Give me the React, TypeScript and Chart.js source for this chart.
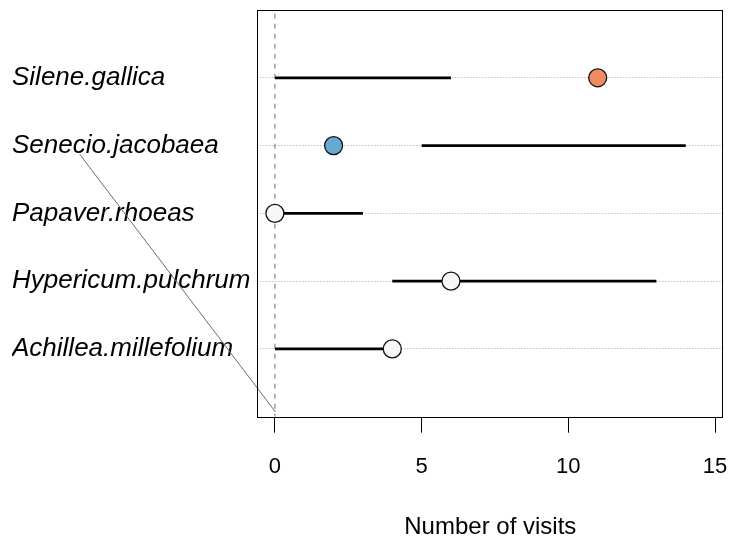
import React, { useEffect, useRef } from "react";
import { Chart, registerables } from "chart.js";

Chart.register(...registerables);

// ---- data ----
const species = [
  "Achillea.millefolium",
  "Hypericum.pulchrum",
  "Papaver.rhoeas",
  "Senecio.jacobaea",
  "Silene.gallica",
];
const rows = [1, 2, 3, 4, 5];
const lower = [0, 4, 0, 5, 0];
const upper = [4, 13, 3, 14, 6];
const visits = [4, 6, 0, 2, 11];
const pointColors = ["#f7f7f7", "#f7f7f7", "#f7f7f7", "#67a9cf", "#ef8a62"];
const xTicks = [0, 5, 10, 15];
const refLineX = [0, 0];
const refLineY = [0, 6];
const strayLineX = [-6.65, 0.02];
const strayLineY = [3.87, 0.07];

const boxPlugin = {
  id: "boxPlugin",
  afterDraw(chart: any) {
    const { ctx, chartArea } = chart;
    ctx.save();
    ctx.strokeStyle = "#000";
    ctx.lineWidth = 1;
    ctx.strokeRect(
      Math.round(chartArea.left) + 0.5,
      Math.round(chartArea.top) + 0.5,
      Math.round(chartArea.right - chartArea.left) - 1,
      Math.round(chartArea.bottom - chartArea.top)
    );
    ctx.restore();
  },
};

export default function App() {
  const ref = useRef<HTMLCanvasElement | null>(null);

  useEffect(() => {
    if (!ref.current) return;
    const intervalSets = rows.map((r, i) => ({
      type: "line" as const,
      data: [
        { x: lower[i], y: r },
        { x: upper[i], y: r },
      ],
      borderColor: "#000",
      borderWidth: 2.7,
      pointRadius: 0,
      order: 2,
    }));
    const chart = new Chart(ref.current, {
      type: "scatter",
      data: {
        datasets: [
          {
            type: "line",
            data: refLineX.map((x, i) => ({ x, y: refLineY[i] })),
            borderColor: "#707070",
            borderWidth: 1,
            borderDash: [5, 5],
            borderDashOffset: 2,
            pointRadius: 0,
            order: 3,
          } as any,
          ...intervalSets,
          {
            type: "scatter",
            data: rows.map((r, i) => ({ x: visits[i], y: r })),
            pointRadius: 9,
            pointBackgroundColor: pointColors,
            pointBorderColor: "#111",
            pointBorderWidth: 1.3,
            order: 1,
          } as any,
          {
            type: "line",
            data: strayLineX.map((x, i) => ({ x, y: strayLineY[i] })),
            borderColor: "#6b6b6b",
            borderWidth: 1,
            pointRadius: 0,
            clip: false,
            order: 0,
          } as any,
        ],
      },
      options: {
        animation: false,
        responsive: false,
        devicePixelRatio: 1,
        layout: {
          autoPadding: false,
          padding: { left: 12, right: 8.7, top: 10, bottom: 0 },
        },
        plugins: { legend: { display: false }, tooltip: { enabled: false } },
        scales: {
          x: {
            type: "linear",
            min: -0.6,
            max: 15.28,
            afterBuildTicks: (s: any) => {
              s.ticks = xTicks.map((v) => ({ value: v }));
            },
            afterFit: (s: any) => {
              s.height = 126.3;
              s.paddingLeft = 0;
              s.paddingRight = 0;
            },
            grid: {
              drawOnChartArea: false,
              drawTicks: true,
              tickLength: 16,
              color: "#000",
              lineWidth: 1,
            },
            border: { display: false },
            ticks: {
              color: "#000",
              padding: 21,
              maxRotation: 0,
              font: { family: "'Liberation Sans', Arial, sans-serif", size: 22 },
            },
            title: {
              display: true,
              text: "Number of visits",
              color: "#000",
              padding: { top: 0, bottom: 1 },
              font: { family: "'Liberation Sans', Arial, sans-serif", size: 24 },
            },
          },
          y: {
            type: "linear",
            min: 0,
            max: 6,
            afterBuildTicks: (s: any) => {
              s.ticks = rows.map((v) => ({ value: v }));
            },
            afterFit: (s: any) => {
              s.width = 245.3;
              s.paddingTop = 0;
              s.paddingBottom = 0;
            },
            grid: {
              drawTicks: false,
              color: "#c4c4c4",
              lineWidth: 1,
            },
            border: { display: false, dash: [1.5, 1.5] },
            ticks: {
              color: "#000",
              crossAlign: "far",
              padding: 0,
              callback: (v: any) => species[Number(v) - 1] ?? "",
              font: {
                family: "'Liberation Sans', Arial, sans-serif",
                size: 26,
                style: "italic",
              },
            },
          },
        },
      },
      plugins: [boxPlugin],
    });
    return () => chart.destroy();
  }, []);

  return (
    <div style={{ position: "fixed", left: 0, top: 0, width: 732, height: 543, background: "#fff" }}>
      <canvas ref={ref} width={732} height={543} />
    </div>
  );
}
